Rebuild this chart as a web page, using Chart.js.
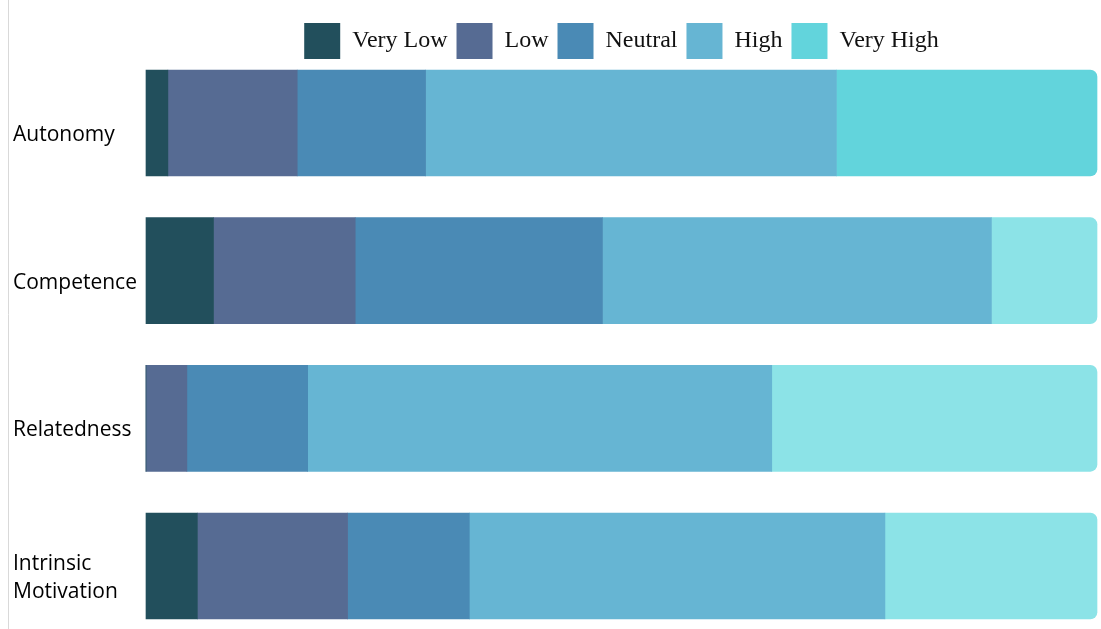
<!DOCTYPE html>
<html>
<head>
<meta charset="utf-8">
<script src="https://cdn.jsdelivr.net/npm/chart.js"></script>
<style>
    html, body { margin: 0; padding: 0; background: #ffffff; }
    #wrap { width: 1101px; height: 629px; position: relative; }
</style>
</head>
<body>
<div id="wrap"><canvas id="motivationChart"></canvas></div>
<script>
// Categories and series (percent of respondents)
const categories = ["Autonomy", "Competence", "Relatedness", ["Intrinsic", "Motivation"]];
const seriesNames = ["Very Low", "Low", "Neutral", "High", "Very High"];

const veryLow  = [2.3, 7.1, 0.0, 5.4];
const low      = [13.6, 14.9, 4.3, 15.8];
const neutral  = [13.5, 26.0, 12.7, 12.8];
const high     = [43.2, 40.9, 48.8, 43.7];
const veryHigh = [27.4, 11.1, 34.2, 22.3];

const seriesColors = ["#224f5c", "#566b93", "#4a8ab5", "#66b5d3", "#62d4dc"];
// Very High bars after the first one are drawn in a lighter tint
const veryHighColors = ["#62d4dc", "#8ce3e7", "#8ce3e7", "#8ce3e7"];

// Thin grey rule along the left edge
const leftRule = {
    id: "leftRule",
    beforeDraw(chart) {
        const ctx = chart.ctx;
        ctx.save();
        ctx.strokeStyle = "#d9d9d9";
        ctx.lineWidth = 1;
        ctx.beginPath();
        ctx.moveTo(8.5, 0);
        ctx.lineTo(8.5, chart.height);
        ctx.stroke();
        ctx.restore();
    }
};

// Extra space under the legend
const legendGap = {
    id: "legendGap",
    beforeInit(chart) {
        const origFit = chart.legend.fit;
        chart.legend.fit = function () {
            origFit.bind(chart.legend)();
            this.height += 54;
        };
    }
};

const values = [veryLow, low, neutral, high, veryHigh];
const datasets = seriesNames.map((name, i) => ({
    label: name,
    data: values[i],
    backgroundColor: i === 4
        ? (ctx) => veryHighColors[ctx.dataIndex ?? 0]
        : seriesColors[i],
    borderWidth: 0,
    borderRadius: 7,
    borderSkipped: "start",
    barThickness: 106,
    clip: false
}));

new Chart(document.getElementById("motivationChart").getContext("2d"), {
    type: "bar",
    data: { labels: categories, datasets: datasets },
    plugins: [leftRule, legendGap],
    options: {
        indexAxis: "y",
        responsive: true,
        maintainAspectRatio: false,
        animation: false,
        layout: { padding: { top: 14, left: 13, right: 4, bottom: 63 } },
        plugins: {
            legend: {
                position: "top",
                fullSize: false,
                labels: {
                    boxWidth: 36,
                    boxHeight: 36,
                    padding: 9,
                    color: "#111111",
                    font: { family: "'Liberation Serif', 'DejaVu Serif', serif", size: 24 }
                }
            },
            tooltip: { enabled: false }
        },
        scales: {
            x: {
                stacked: true,
                min: 0,
                max: 100,
                display: false
            },
            y: {
                stacked: true,
                offset: false,
                grid: { display: false },
                border: { display: false },
                afterFit(scale) { scale.width = 133; },
                ticks: {
                    crossAlign: "far",
                    labelOffset: 12,
                    color: "#000000",
                    font: { family: "'Open Sans', sans-serif", size: 21, lineHeight: 1.35 }
                }
            }
        }
    }
});
</script>
</body>
</html>
